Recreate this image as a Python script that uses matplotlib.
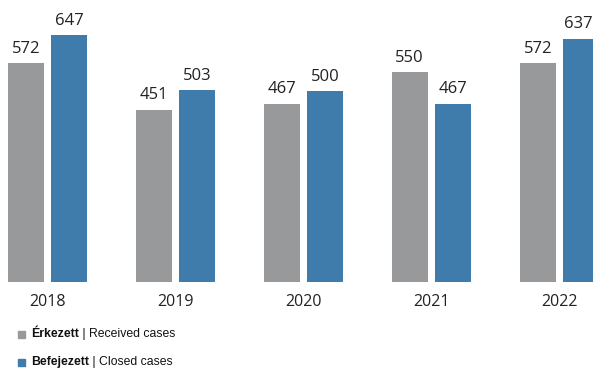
import matplotlib
matplotlib.use('Agg')
import matplotlib.pyplot as plt
from matplotlib.patches import Rectangle
import numpy as np

years = ['2018', '2019', '2020', '2021', '2022']
received = [572, 451, 467, 550, 572]
closed = [647, 503, 500, 467, 637]

grey = '#98999b'
blue = '#3f7bab'

fig = plt.figure(figsize=(5.93, 3.68), dpi=100)
ax = fig.add_axes([0, 0.2337, 1, 0.7663])

x = np.arange(len(years))
w = 0.28
off = 0.17
xmin, xmax = -0.371, 4.262
b1 = ax.bar(x - off, received, w, color=grey)
b2 = ax.bar(x + off, closed, w, color=blue)

for bars, vals in ((b1, received), (b2, closed)):
    for bar, v in zip(bars, vals):
        # centre the label over the visible part of the bar
        lo = max(bar.get_x(), xmin)
        hi = min(bar.get_x() + bar.get_width(), xmax)
        ax.annotate(str(v), ((lo + hi) / 2, v),
                    xytext=(0, 4.5), textcoords='offset points',
                    ha='center', va='bottom', fontsize=12,
                    family='Open Sans', color='#222222')

ax.set_xlim(xmin, xmax)
ax.set_ylim(0, 738)
for s in ax.spines.values():
    s.set_visible(False)
ax.set_yticks([])
ax.set_xticks(x)
ax.set_xticklabels(years, fontsize=11.5, family='Open Sans', color='#222222')
ax.tick_params(axis='x', length=0, pad=9)

# legend built by hand: bold Hungarian name + regular English name
legend_rows = [(grey, 'Érkezett', ' | Received cases', 334),
               (blue, 'Befejezett', ' | Closed cases', 362)]
for col, hu, en, ypx in legend_rows:
    yf = 1 - ypx / 368
    fig.patches.append(Rectangle((18 / 593, yf - 3.5 / 368), 7 / 593, 7 / 368,
                                 transform=fig.transFigure, color=col))
    t = fig.text(31 / 593, yf, hu, fontsize=8.8, fontweight='bold',
                 family='Liberation Sans', va='center', color='#111111')
    ax.annotate(en, xy=(1, 0.5), xycoords=t, va='center', ha='left',
                fontsize=8.8, family='Liberation Sans', color='#111111',
                annotation_clip=False)

fig.savefig('out.png', dpi=100)
